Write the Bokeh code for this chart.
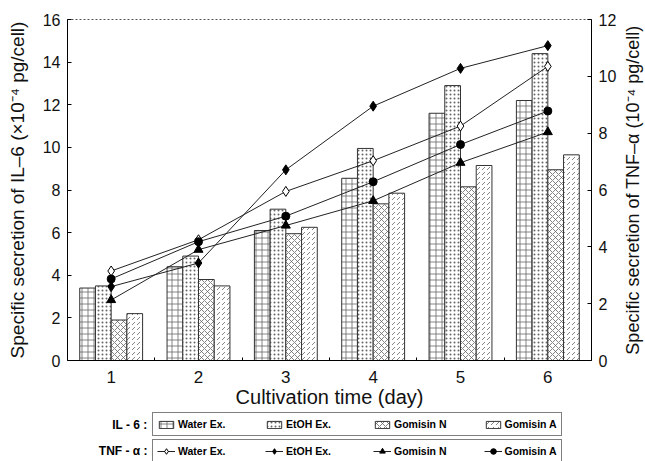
import math
from bokeh.plotting import figure
from bokeh.layouts import column, row
from bokeh.models import (Range1d, LinearAxis, Legend, LegendItem, Label,
                          ColumnDataSource, FixedTicker)
from bokeh.transform import dodge
from bokeh.embed import file_html
from bokeh.resources import INLINE

# ---- data ----
days = [1, 2, 3, 4, 5, 6]
day_labels = ["1", "2", "3", "4", "5", "6"]
series_names = ["Water Ex.", "EtOH Ex.", "Gomisin N", "Gomisin A"]

il6_water = [3.4, 4.4, 6.1, 8.55, 11.6, 12.2]
il6_etoh = [3.5, 4.9, 7.1, 9.95, 12.9, 14.4]
il6_gomn = [1.9, 3.8, 5.95, 7.35, 8.15, 8.95]
il6_goma = [2.2, 3.5, 6.25, 7.85, 9.15, 9.65]

tnf_water = [3.15, 4.25, 5.95, 7.03, 8.25, 10.35]
tnf_etoh = [2.6, 3.43, 6.71, 8.95, 10.28, 11.08]
tnf_gomn = [2.13, 3.9, 4.75, 5.62, 6.96, 8.04]
tnf_goma = [2.87, 4.18, 5.08, 6.29, 7.6, 8.78]

FONT = "Liberation Sans"
TW = 26                      # width of the strip holding the right-hand title
MAIN_W = 645 - TW
MAIN_H = 410
LEFT, TOP, BOTTOM = 67, 19, MAIN_H - 363
RIGHT = MAIN_W - 591

src = ColumnDataSource(dict(day=days,
                            w=il6_water, e=il6_etoh, n=il6_gomn, a=il6_goma,
                            tw=tnf_water, te=tnf_etoh, tn=tnf_gomn, ta=tnf_goma))

p = figure(width=MAIN_W, height=MAIN_H, output_backend="svg", toolbar_location=None,
           x_range=Range1d(0.5, 6.5), y_range=Range1d(0, 16),
           min_border_left=LEFT, min_border_right=RIGHT, min_border_top=TOP,
           min_border_bottom=BOTTOM)
p.extra_y_ranges = {"tnf": Range1d(0, 12)}
p.xgrid.visible = False
p.ygrid.visible = False
p.background_fill_color = "white"
p.border_fill_color = "white"
p.outline_line_color = "#555555"
p.outline_line_dash = "2 2"
p.outline_line_width = 1

# ---- bars (IL-6) ----
bar_w = 0.18
offsets = [-0.27, -0.09, 0.09, 0.27]
cols = ["w", "e", "n", "a"]
hatches = ["cross", "dot", "diagonal_cross", "right_diagonal_dash"]
hatch_scales = [6, 4, 6, 5]
bar_style = []
for col, off, hp, hs in zip(cols, offsets, hatches, hatch_scales):
    style = dict(fill_color="white", line_color="#333333", line_width=1,
                 hatch_pattern=hp, hatch_color="#666666", hatch_scale=hs,
                 hatch_weight=0.8)
    p.vbar(x=dodge("day", off), top=col, width=bar_w, bottom=0, source=src, **style)
    bar_style.append(style)

# ---- lines (TNF-alpha) ----
tcols = ["tw", "te", "tn", "ta"]
markers = ["diamond", "diamond", "triangle", "circle"]
mfill = ["white", "black", "black", "black"]
msize = [10, 10, 9, 8]
for col, mk, fc, ms in zip(tcols, markers, mfill, msize):
    p.line(x="day", y=col, source=src, y_range_name="tnf",
           line_color="#222222", line_width=1)
    p.scatter(x="day", y=col, source=src, y_range_name="tnf",
              marker=mk, size=ms, fill_color=fc, line_color="black", line_width=1)

# ---- axes ----
def style_axis(ax):
    ax.axis_line_color = "black"
    ax.axis_line_width = 1
    ax.major_label_text_font = FONT
    ax.major_label_text_font_size = "16px"
    ax.major_label_text_color = "#111111"
    ax.axis_label_text_font = FONT
    ax.axis_label_text_font_size = "19px"
    ax.axis_label_text_font_style = "normal"
    ax.axis_label_text_color = "#111111"
    ax.major_tick_line_color = "black"
    ax.minor_tick_line_color = None

p.yaxis.ticker = FixedTicker(ticks=list(range(0, 17, 2)))
p.yaxis.axis_label = "Specific secretion of IL–6 (×10⁻⁴ pg/cell)"
style_axis(p.yaxis[0])
p.yaxis.major_tick_in = 4
p.yaxis.major_tick_out = 0
p.yaxis.major_label_standoff = 7
p.yaxis.axis_label_standoff = 12

ry = LinearAxis(y_range_name="tnf", ticker=FixedTicker(ticks=list(range(0, 13, 2))))
style_axis(ry)
ry.major_tick_in = 4
ry.major_tick_out = 0
ry.major_label_standoff = 7
p.add_layout(ry, "right")

p.xaxis.ticker = FixedTicker(ticks=days, minor_ticks=[1.5, 2.5, 3.5, 4.5, 5.5])
p.xaxis.major_label_overrides = {d: s for d, s in zip(days, day_labels)}
p.xaxis.axis_label = "Cultivation time (day)"
style_axis(p.xaxis[0])
p.xaxis.major_label_text_font_size = "17px"
p.xaxis.axis_label_text_font_size = "20px"
p.xaxis.major_tick_line_color = None
p.xaxis.minor_tick_line_color = "black"
p.xaxis.minor_tick_in = 3
p.xaxis.minor_tick_out = 0
p.xaxis.major_label_standoff = 4
p.xaxis.axis_label_standoff = 0

# ---- right-hand title strip (reads bottom-to-top like the reference) ----
tfig = figure(width=TW, height=MAIN_H, output_backend="svg", toolbar_location=None,
              x_range=Range1d(0, 1), y_range=Range1d(0, 16),
              x_axis_location=None, y_axis_location=None,
              min_border_left=0, min_border_right=0,
              min_border_top=TOP, min_border_bottom=BOTTOM)
tfig.xgrid.visible = False
tfig.ygrid.visible = False
tfig.outline_line_color = None
tfig.background_fill_color = "white"
tfig.border_fill_color = "white"
tfig.add_layout(Label(x=0.5, y=8.0, text="Specific secretion of TNF–α (10⁻⁴ pg/cell)",
                      angle=math.pi / 2, text_align="center", text_baseline="middle",
                      text_font=FONT, text_font_size="18px", text_color="#111111"))

# ---- legend strip (separate figure below the chart) ----
LEG_H = 461 - MAIN_H
lp = figure(width=645, height=LEG_H, output_backend="svg", toolbar_location=None,
            x_range=Range1d(LEFT, 591), y_range=Range1d(0, LEG_H),
            x_axis_location=None, y_axis_location=None,
            min_border_left=LEFT, min_border_right=645 - 591,
            min_border_top=0, min_border_bottom=0)
lp.xgrid.visible = False
lp.ygrid.visible = False
lp.outline_line_color = None
lp.background_fill_color = "white"
lp.border_fill_color = "white"

# off-screen proxies so the legend can draw the swatches
proxy = ColumnDataSource(dict(x=[-1000], y=[-1000]))
bar_proxies = [lp.vbar(x="x", top="y", width=1, source=proxy, **st) for st in bar_style]
line_proxies = []
for mk, fc, ms in zip(markers, mfill, msize):
    lr = lp.line(x="x", y="y", source=proxy, line_color="#222222", line_width=1)
    sr = lp.scatter(x="x", y="y", source=proxy, marker=mk, size=ms - 2,
                    fill_color=fc, line_color="black", line_width=1)
    line_proxies.append([lr, sr])


def make_legend(items, loc, gh):
    return Legend(items=items, orientation="horizontal", location=loc,
                  margin=0, padding=4, spacing=37, glyph_width=18, glyph_height=gh,
                  label_width=50, label_height=14, label_standoff=3,
                  label_text_font=FONT, label_text_font_size="10.5px",
                  label_text_font_style="bold", label_text_color="black",
                  border_line_color="black", border_line_width=1,
                  background_fill_color="white", background_fill_alpha=1)

leg1 = make_legend([LegendItem(label=n, renderers=[r])
                    for n, r in zip(series_names, bar_proxies)], (152 - LEFT, 25), 9)
leg2 = make_legend([LegendItem(label=n, renderers=rs)
                    for n, rs in zip(series_names, line_proxies)], (152 - LEFT, -2), 14)
lp.add_layout(leg1, "center")
lp.add_layout(leg2, "center")

for txt, yv in [("IL - 6 :", 37), ("TNF - α :", 11)]:
    lp.add_layout(Label(x=147, y=yv, text=txt, text_align="right",
                        text_baseline="middle", text_font=FONT,
                        text_font_size="12px", text_font_style="bold",
                        text_color="black"))

layout = column(row(p, tfig, spacing=0), lp, spacing=0)
open("out.html", "w").write(file_html(layout, INLINE))
